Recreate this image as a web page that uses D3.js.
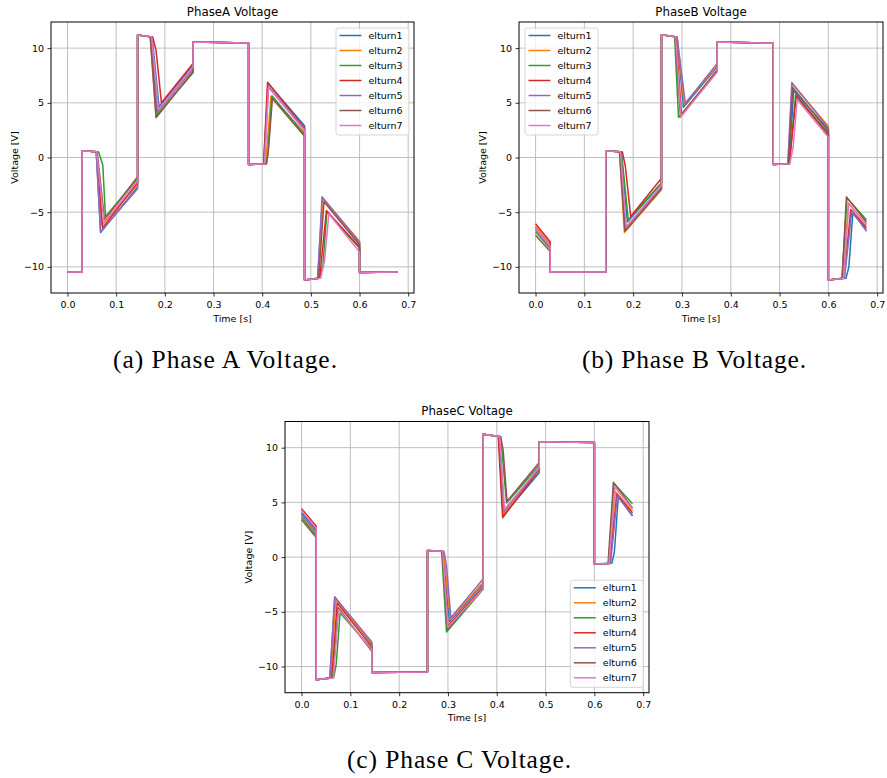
<!DOCTYPE html>
<html><head><meta charset="utf-8">
<script src="https://cdn.jsdelivr.net/npm/d3@7"></script>
<style>body{margin:0;background:#fff}</style>
</head><body>
<svg id="chart" width="887" height="778" xmlns="http://www.w3.org/2000/svg"></svg>
<script>
// ---------- data ----------
const seriesNames = ["elturn1","elturn2","elturn3","elturn4","elturn5","elturn6","elturn7"];
const seriesColors = ["#1f77b4","#ff7f0e","#2ca02c","#d62728","#9467bd","#8c564b","#e377c2"];
const xTicks = [0,0.1,0.2,0.3,0.4,0.5,0.6,0.7];
const yTicks = [-10,-5,0,5,10];
const xDomain = [-0.0339,0.7119];
const yDomain = [-12.39,12.39];
const panelTitles = ["PhaseA Voltage","PhaseB Voltage","PhaseC Voltage"];
const panelCaptions = ["(a) Phase A Voltage.","(b) Phase B Voltage.","(c) Phase C Voltage."];

// Phase A  [time s, voltage V]
const phaseA_elturn1 = [[0,-10.47],[0.03,-10.47],[0.03,0.61],[0.059,0.52],[0.068,-6.85],[0.144,-2.7],[0.144,11.2],[0.174,11.03],[0.188,4.65],[0.258,8.4],[0.258,10.55],[0.372,10.46],[0.372,-0.64],[0.403,-0.58],[0.412,6.8],[0.487,2.9],[0.487,-11.2],[0.514,-11.05],[0.524,-3.7],[0.6,-7.8],[0.6,-10.52],[0.678,-10.48]];
const phaseA_elturn2 = [[0,-10.47],[0.03,-10.47],[0.03,0.61],[0.059,0.52],[0.071,-6.2],[0.144,-2.5],[0.144,11.2],[0.17,11.03],[0.182,3.65],[0.258,7.9],[0.258,10.55],[0.372,10.46],[0.372,-0.64],[0.407,-0.58],[0.418,5.6],[0.487,2.25],[0.487,-11.2],[0.515,-11.05],[0.525,-3.75],[0.6,-7.65],[0.6,-10.52],[0.678,-10.48]];
const phaseA_elturn3 = [[0,-10.47],[0.03,-10.47],[0.03,0.61],[0.064,0.5],[0.0725,-0.7],[0.078,-5.4],[0.144,-1.95],[0.144,11.2],[0.171,11.03],[0.184,3.9],[0.258,7.75],[0.258,10.55],[0.372,10.46],[0.372,-0.64],[0.408,-0.58],[0.4115,0.2],[0.42,5.64],[0.487,2.1],[0.487,-11.2],[0.518,-11.05],[0.525,-9.8],[0.533,-4.95],[0.6,-8.3],[0.6,-10.52],[0.678,-10.48]];
const phaseA_elturn4 = [[0,-10.47],[0.03,-10.47],[0.03,0.61],[0.06,0.52],[0.072,-6.45],[0.144,-2.3],[0.144,11.2],[0.175,11.02],[0.182,9.8],[0.193,5.0],[0.258,8.6],[0.258,10.55],[0.372,10.46],[0.372,-0.64],[0.403,-0.58],[0.411,6.88],[0.487,2.7],[0.487,-11.2],[0.518,-11.05],[0.532,-4.85],[0.6,-8.2],[0.6,-10.52],[0.678,-10.48]];
const phaseA_elturn5 = [[0,-10.47],[0.03,-10.47],[0.03,0.61],[0.059,0.52],[0.068,-6.8],[0.144,-2.85],[0.144,11.2],[0.172,11.03],[0.185,4.15],[0.258,8.1],[0.258,10.55],[0.372,10.46],[0.372,-0.64],[0.404,-0.58],[0.413,6.5],[0.487,2.6],[0.487,-11.2],[0.514,-11.05],[0.523,-3.6],[0.6,-7.75],[0.6,-10.52],[0.678,-10.48]];
const phaseA_elturn6 = [[0,-10.47],[0.03,-10.47],[0.03,0.61],[0.061,0.52],[0.076,-5.7],[0.144,-1.75],[0.144,11.2],[0.17,11.03],[0.182,3.65],[0.258,7.85],[0.258,10.55],[0.372,10.46],[0.372,-0.64],[0.409,-0.58],[0.413,0.8],[0.421,5.4],[0.487,1.95],[0.487,-11.2],[0.516,-11.05],[0.527,-4.05],[0.6,-8.0],[0.6,-10.52],[0.678,-10.48]];
const phaseA_elturn7 = [[0,-10.47],[0.03,-10.47],[0.03,0.61],[0.06,0.52],[0.075,-5.9],[0.144,-2.1],[0.144,11.2],[0.173,11.03],[0.187,4.4],[0.258,8.3],[0.258,10.55],[0.372,10.46],[0.372,-0.64],[0.405,-0.58],[0.413,6.4],[0.487,2.45],[0.487,-11.2],[0.52,-11.05],[0.528,-9.5],[0.537,-5.15],[0.6,-8.65],[0.6,-10.52],[0.678,-10.48]];

// Phase B
const phaseB_elturn1 = [[0,-6.35],[0.03,-7.95],[0.03,-10.47],[0.144,-10.46],[0.144,0.61],[0.175,0.52],[0.188,-5.9],[0.258,-2.35],[0.258,11.22],[0.29,11.03],[0.303,4.6],[0.372,8.3],[0.372,10.55],[0.487,10.46],[0.487,-0.64],[0.519,-0.58],[0.529,6.1],[0.6,2.55],[0.6,-11.2],[0.636,-11.05],[0.642,-10.0],[0.65,-5.1],[0.678,-6.6]];
const phaseB_elturn2 = [[0,-6.3],[0.03,-7.9],[0.03,-10.47],[0.144,-10.46],[0.144,0.61],[0.172,0.52],[0.182,-6.85],[0.258,-2.95],[0.258,11.22],[0.29,11.03],[0.305,4.9],[0.372,8.4],[0.372,10.55],[0.487,10.46],[0.487,-0.64],[0.517,-0.58],[0.526,6.75],[0.6,2.85],[0.6,-11.2],[0.63,-11.05],[0.641,-4.15],[0.678,-6.1]];
const phaseB_elturn3 = [[0,-6.8],[0.03,-8.35],[0.03,-10.47],[0.144,-10.46],[0.144,0.61],[0.176,0.52],[0.19,-5.7],[0.258,-2.3],[0.258,11.22],[0.285,11.03],[0.293,3.65],[0.372,7.9],[0.372,10.55],[0.487,10.46],[0.487,-0.64],[0.52,-0.58],[0.533,5.75],[0.6,2.2],[0.6,-11.2],[0.628,-11.05],[0.638,-3.7],[0.678,-5.7]];
const phaseB_elturn4 = [[0,-6.05],[0.03,-7.7],[0.03,-10.47],[0.144,-10.46],[0.144,0.61],[0.178,0.5],[0.184,-0.8],[0.195,-5.4],[0.258,-1.9],[0.258,11.22],[0.288,11.03],[0.299,3.9],[0.372,8.0],[0.372,10.55],[0.487,10.46],[0.487,-0.64],[0.52,-0.58],[0.534,5.6],[0.6,2.05],[0.6,-11.2],[0.632,-11.05],[0.646,-4.75],[0.678,-6.4]];
const phaseB_elturn5 = [[0,-6.6],[0.03,-8.2],[0.03,-10.47],[0.144,-10.46],[0.144,0.61],[0.173,0.52],[0.184,-6.5],[0.258,-2.7],[0.258,11.22],[0.29,11.03],[0.293,9.9],[0.307,4.95],[0.372,8.6],[0.372,10.55],[0.487,10.46],[0.487,-0.64],[0.517,-0.58],[0.525,6.85],[0.6,2.7],[0.6,-11.2],[0.633,-11.05],[0.648,-4.9],[0.678,-6.75]];
const phaseB_elturn6 = [[0,-7.1],[0.03,-8.6],[0.03,-10.47],[0.144,-10.46],[0.144,0.61],[0.172,0.52],[0.183,-6.75],[0.258,-2.85],[0.258,11.22],[0.286,11.03],[0.297,3.7],[0.372,7.95],[0.372,10.55],[0.487,10.46],[0.487,-0.64],[0.518,-0.58],[0.527,6.4],[0.6,2.4],[0.6,-11.2],[0.628,-11.05],[0.637,-3.6],[0.678,-5.9]];
const phaseB_elturn7 = [[0,-6.5],[0.03,-8.1],[0.03,-10.47],[0.144,-10.46],[0.144,0.61],[0.174,0.52],[0.186,-6.3],[0.258,-2.55],[0.258,11.22],[0.287,11.03],[0.298,3.75],[0.372,7.8],[0.372,10.55],[0.487,10.46],[0.487,-0.64],[0.521,-0.58],[0.528,1.0],[0.536,5.3],[0.6,1.85],[0.6,-11.2],[0.631,-11.05],[0.642,-4.25],[0.678,-6.15]];

// Phase C
const phaseC_elturn1 = [[0,4.05],[0.03,2.5],[0.03,-11.2],[0.058,-11.05],[0.068,-3.65],[0.144,-8.0],[0.144,-10.55],[0.258,-10.5],[0.258,0.61],[0.29,0.53],[0.303,-5.9],[0.372,-2.45],[0.372,11.22],[0.404,11.03],[0.413,3.8],[0.487,7.7],[0.487,10.55],[0.6,10.46],[0.6,-0.64],[0.636,-0.55],[0.641,0.5],[0.649,5.5],[0.678,3.75]];
const phaseC_elturn2 = [[0,3.75],[0.03,2.2],[0.03,-11.2],[0.06,-11.05],[0.07,-3.9],[0.144,-7.9],[0.144,-10.55],[0.258,-10.5],[0.258,0.61],[0.291,0.53],[0.305,-5.7],[0.372,-2.3],[0.372,11.22],[0.405,11.03],[0.414,4.0],[0.487,7.9],[0.487,10.55],[0.6,10.46],[0.6,-0.64],[0.631,-0.58],[0.643,6.0],[0.678,4.2]];
const phaseC_elturn3 = [[0,3.6],[0.03,2.0],[0.03,-11.2],[0.066,-11.0],[0.071,-9.8],[0.079,-5.1],[0.144,-8.4],[0.144,-10.55],[0.258,-10.5],[0.258,0.61],[0.287,0.53],[0.297,-6.85],[0.372,-2.95],[0.372,11.22],[0.408,11.03],[0.42,4.95],[0.487,8.4],[0.487,10.55],[0.6,10.46],[0.6,-0.64],[0.629,-0.58],[0.64,6.75],[0.678,4.88]];
const phaseC_elturn4 = [[0,4.43],[0.03,2.85],[0.03,-11.2],[0.062,-11.05],[0.073,-4.2],[0.144,-8.2],[0.144,-10.55],[0.258,-10.5],[0.258,0.61],[0.289,0.53],[0.3,-6.3],[0.372,-2.7],[0.372,11.22],[0.403,11.03],[0.412,3.6],[0.487,8.0],[0.487,10.55],[0.6,10.46],[0.6,-0.64],[0.632,-0.58],[0.646,5.75],[0.678,4.02]];
const phaseC_elturn5 = [[0,3.9],[0.03,2.3],[0.03,-11.2],[0.058,-11.05],[0.068,-3.65],[0.144,-7.75],[0.144,-10.55],[0.258,-10.5],[0.258,0.61],[0.292,0.5],[0.297,-0.8],[0.306,-5.55],[0.372,-2.0],[0.372,11.22],[0.405,11.03],[0.415,4.2],[0.487,8.1],[0.487,10.55],[0.6,10.46],[0.6,-0.64],[0.633,-0.58],[0.647,5.6],[0.678,3.8]];
const phaseC_elturn6 = [[0,3.4],[0.03,1.8],[0.03,-11.2],[0.064,-11.05],[0.075,-4.6],[0.144,-8.6],[0.144,-10.55],[0.258,-10.5],[0.258,0.61],[0.288,0.53],[0.299,-6.6],[0.372,-2.8],[0.372,11.22],[0.408,11.0],[0.413,9.8],[0.421,5.1],[0.487,8.65],[0.487,10.55],[0.6,10.46],[0.6,-0.64],[0.628,-0.58],[0.639,6.83],[0.678,4.5]];
const phaseC_elturn7 = [[0,4.25],[0.03,2.65],[0.03,-11.2],[0.065,-11.05],[0.076,-4.8],[0.144,-8.5],[0.144,-10.55],[0.258,-10.5],[0.258,0.61],[0.289,0.53],[0.3,-6.4],[0.372,-2.9],[0.372,11.22],[0.406,11.03],[0.416,4.4],[0.487,8.2],[0.487,10.55],[0.6,10.46],[0.6,-0.64],[0.63,-0.58],[0.642,6.4],[0.678,4.4]];

const phaseA = [phaseA_elturn1,phaseA_elturn2,phaseA_elturn3,phaseA_elturn4,phaseA_elturn5,phaseA_elturn6,phaseA_elturn7];
const phaseB = [phaseB_elturn1,phaseB_elturn2,phaseB_elturn3,phaseB_elturn4,phaseB_elturn5,phaseB_elturn6,phaseB_elturn7];
const phaseC = [phaseC_elturn1,phaseC_elturn2,phaseC_elturn3,phaseC_elturn4,phaseC_elturn5,phaseC_elturn6,phaseC_elturn7];

// ---------- layout ----------
const panels = [
  {data: phaseA, title: panelTitles[0], caption: panelCaptions[0], box: {x0: 51, x1: 414, y0: 22, y1: 293}, legend: "ur", capX: 225, capY: 368},
  {data: phaseB, title: panelTitles[1], caption: panelCaptions[1], box: {x0: 519, x1: 883, y0: 22, y1: 293}, legend: "ul", capX: 694, capY: 368},
  {data: phaseC, title: panelTitles[2], caption: panelCaptions[2], box: {x0: 285, x1: 649, y0: 421.5, y1: 692.7}, legend: "lr", capX: 459, capY: 768}
];

const svg = d3.select("#chart");
svg.append("rect").attr("width", 887).attr("height", 778).attr("fill", "#fff");
const sans = "'DejaVu Sans', sans-serif";
const fmtY = d => d < 0 ? "\u2212" + Math.abs(d) : String(d);

panels.forEach(p => {
  const b = p.box;
  const x = d3.scaleLinear().domain(xDomain).range([b.x0, b.x1]);
  const y = d3.scaleLinear().domain(yDomain).range([b.y1, b.y0]);
  const g = svg.append("g");

  // grid
  g.append("g").selectAll("line").data(xTicks).join("line")
    .attr("x1", d => x(d)).attr("x2", d => x(d)).attr("y1", b.y0).attr("y2", b.y1)
    .attr("stroke", "#b0b0b0").attr("stroke-width", 0.8);
  g.append("g").selectAll("line").data(yTicks).join("line")
    .attr("y1", d => y(d)).attr("y2", d => y(d)).attr("x1", b.x0).attr("x2", b.x1)
    .attr("stroke", "#b0b0b0").attr("stroke-width", 0.8);

  // series
  const line = d3.line().x(d => x(d[0])).y(d => y(d[1]));
  g.append("g").selectAll("path").data(p.data).join("path")
    .attr("d", line).attr("fill", "none")
    .attr("stroke", (d, i) => seriesColors[i])
    .attr("stroke-width", 1.5).attr("stroke-linejoin", "round");

  // axes
  const xa = g.append("g").attr("transform", `translate(0,${b.y1})`)
    .call(d3.axisBottom(x).tickValues(xTicks).tickFormat(d3.format(".1f")).tickSize(3.5).tickPadding(5).tickSizeOuter(0));
  const ya = g.append("g").attr("transform", `translate(${b.x0},0)`)
    .call(d3.axisLeft(y).tickValues(yTicks).tickFormat(fmtY).tickSize(3.5).tickPadding(3.5).tickSizeOuter(0));
  [xa, ya].forEach(a => {
    a.select(".domain").remove();
    a.selectAll("line").attr("stroke", "#000").attr("stroke-width", 0.8);
    a.selectAll("text").attr("font-family", sans).attr("font-size", 9.5).attr("fill", "#000");
  });

  // frame
  g.append("rect").attr("x", b.x0).attr("y", b.y0).attr("width", b.x1 - b.x0).attr("height", b.y1 - b.y0)
    .attr("fill", "none").attr("stroke", "#000").attr("stroke-width", 1);

  // labels
  const cx = (b.x0 + b.x1) / 2;
  g.append("text").attr("x", cx).attr("y", b.y0 - 6.5).attr("text-anchor", "middle")
    .attr("font-family", sans).attr("font-size", 11.8).text(p.title);
  g.append("text").attr("x", cx).attr("y", b.y1 + 28.5).attr("text-anchor", "middle")
    .attr("font-family", sans).attr("font-size", 9.5).text("Time [s]");
  g.append("text").attr("transform", `translate(${b.x0 - 33.5},${(b.y0 + b.y1) / 2}) rotate(-90)`)
    .attr("text-anchor", "middle").attr("font-family", sans).attr("font-size", 9.5).text("Voltage [V]");

  // legend
  const lw = 73, lh = 107;
  let lx, ly;
  if (p.legend === "ur") { lx = b.x1 - 5 - lw; ly = b.y0 + 6; }
  else if (p.legend === "ul") { lx = b.x0 + 6; ly = b.y0 + 6; }
  else { lx = b.x1 - 5.7 - lw; ly = b.y1 - 5.4 - lh; }
  const lg = g.append("g").attr("transform", `translate(${lx},${ly})`);
  lg.append("rect").attr("width", lw).attr("height", lh).attr("rx", 2.5)
    .attr("fill", "#fff").attr("fill-opacity", 0.8).attr("stroke", "#cccccc").attr("stroke-width", 0.8);
  const rows = lg.selectAll("g.row").data(seriesNames).join("g")
    .attr("transform", (d, i) => `translate(0,${7.5 + i * 15})`);
  rows.append("line").attr("x1", 3.5).attr("x2", 25.5).attr("y1", 0).attr("y2", 0)
    .attr("stroke", (d, i) => seriesColors[i]).attr("stroke-width", 1.5);
  rows.append("text").attr("x", 32.5).attr("y", 3.4).attr("font-family", sans)
    .attr("font-size", 9.5).attr("fill", "#000").text(d => d);

  // caption
  svg.append("text").attr("x", p.capX).attr("y", p.capY).attr("text-anchor", "middle")
    .attr("font-family", "'Liberation Serif', 'Times New Roman', serif").attr("font-size", 25.5)
    .attr("textLength", 224).attr("lengthAdjust", "spacing").attr("fill", "#000").text(p.caption);
});
</script>
</body></html>
